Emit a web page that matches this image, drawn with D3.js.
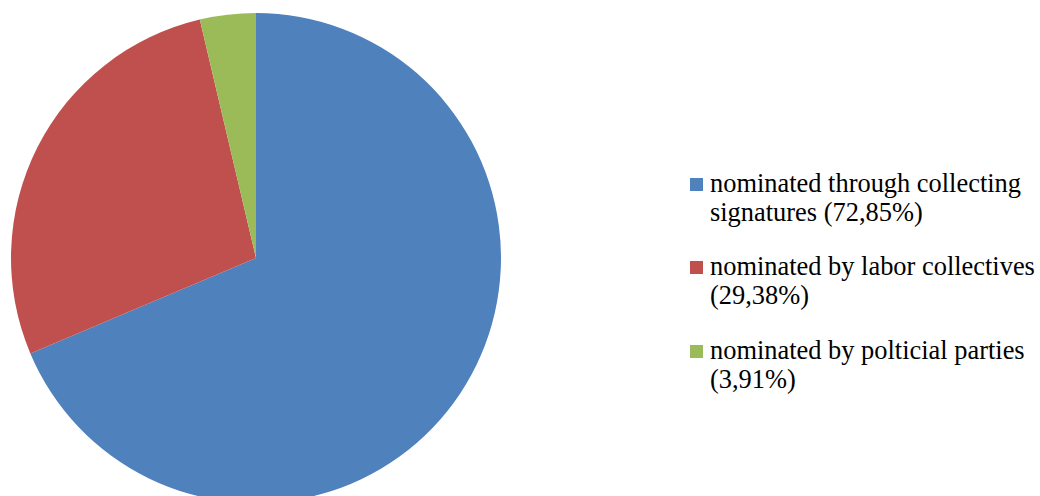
<!DOCTYPE html>
<html><head><meta charset="utf-8">
<script src="https://cdn.jsdelivr.net/npm/d3@7"></script>
<style>body{margin:0;background:#fff}</style>
</head><body>
<svg id="c" width="1040" height="496"></svg>
<script>
const categories = ["nominated through collecting signatures", "nominated by labor collectives", "nominated by polticial parties"];
const values = [72.85, 29.38, 3.91];
const labels = ["(72,85%)", "(29,38%)", "(3,91%)"];
const legendLines = [["nominated through collecting", "signatures (72,85%)"], ["nominated by labor collectives", "(29,38%)"], ["nominated by polticial parties", "(3,91%)"]];
const colors = ["#4F81BD", "#C0504D", "#9BBB59"];

const svg = d3.select("#c");
const cx = 256, cy = 258, r = 245;
const pie = d3.pie().sort(null).value(d => d)(values);
const arc = d3.arc().innerRadius(0).outerRadius(r);
const g = svg.append("g").attr("transform", `translate(${cx},${cy})`);
g.selectAll("path").data(pie).join("path").attr("d", arc).attr("fill", (d, i) => colors[i]);

const leg = svg.append("g");
const entryY = [192, 275, 359];
const textG = leg.append("g");
legendLines.forEach((lines, i) => {
  leg.append("rect").attr("x", 690).attr("y", entryY[i] - 14).attr("width", 13).attr("height", 13).attr("fill", colors[i]);
  lines.forEach((t, j) => {
    textG.append("text").attr("x", 0).attr("y", entryY[i] + j * 29)
      .style("font-family", '"Liberation Serif"').style("font-size", "27px")
      .attr("fill", "#000").text(t);
  });
});
const w = textG.selectAll("text").nodes()[2].getComputedTextLength();
const sx = 325 / w;
textG.attr("transform", `translate(710,0) scale(${sx},1)`);
</script>
</body></html>
